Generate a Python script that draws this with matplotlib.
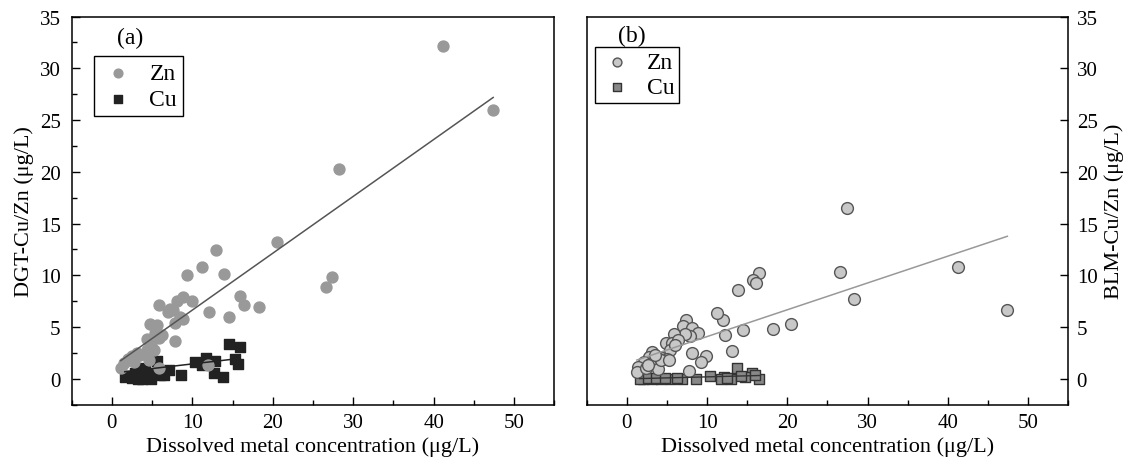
import numpy as np
import matplotlib.pyplot as plt
from matplotlib.ticker import MultipleLocator

plt.rcParams['font.family'] = ['Liberation Serif', 'DejaVu Serif']

# panel (a): DGT-measured vs dissolved
dgt_zn_x = [41.2, 47.4, 28.2, 20.5, 13.0, 11.2, 9.3, 13.9, 27.4, 26.6, 15.9, 16.4, 18.3,
            12.1, 14.5, 5.9, 8.8, 9.9, 8.1, 7.6, 7.0, 7.8, 8.8, 7.9, 4.7, 5.6, 5.3, 5.4,
            5.9, 4.3, 4.8, 5.2, 4.3, 3.1, 2.5, 2.0, 1.5, 1.1, 4.6, 5.8, 12.0, 3.5, 2.7,
            6.2, 7.2, 8.5]
dgt_zn_y = [32.2, 26.0, 20.3, 13.2, 12.45, 10.85, 10.05, 10.1, 9.8, 8.9, 8.05, 7.1, 6.95,
            6.45, 6.0, 7.1, 7.95, 7.5, 7.5, 6.7, 6.5, 5.4, 5.75, 3.7, 5.3, 5.25, 4.9, 4.4,
            3.95, 3.9, 3.3, 2.8, 2.8, 2.5, 2.2, 1.9, 1.5, 1.05, 1.8, 1.1, 1.35, 2.3, 1.6,
            4.2, 6.8, 6.0]
dgt_cu_x = [14.6, 15.95, 15.3, 15.7, 11.7, 12.85, 10.3, 11.2, 12.7, 13.8, 8.6, 7.1, 6.5,
            5.6, 3.5, 4.1, 1.9, 2.5, 3.1, 3.7, 4.35, 4.8, 5.4, 6.0, 2.9, 4.1, 3.3, 2.1, 1.6]
dgt_cu_y = [3.35, 3.05, 1.9, 1.45, 2.0, 1.7, 1.6, 1.35, 0.6, 0.15, 0.42, 0.85, 0.4,
            1.75, 1.05, 0.85, 0.25, 0.05, 0.25, 0.0, 0.05, -0.05, 0.55, 0.4, 0.55, 0.4,
            -0.05, 0.3, 0.15]

# panel (b): BLM-predicted vs dissolved
blm_zn_x = [27.4, 41.2, 47.4, 26.6, 28.3, 20.5, 18.2, 16.5, 15.7, 16.1, 13.9, 14.5, 13.1,
            12.2, 12.0, 11.2, 9.9, 9.3, 7.7, 8.1, 7.4, 7.05, 8.1, 8.9, 7.9, 7.3, 5.9, 4.9,
            5.6, 6.4, 5.4, 3.1, 4.4, 5.0, 2.8, 2.1, 2.9, 3.9, 1.45, 1.25, 4.2, 3.5, 2.4,
            5.2, 6.0, 2.6]
blm_zn_y = [16.5, 10.85, 6.7, 10.3, 7.7, 5.35, 4.85, 10.2, 9.6, 9.3, 8.6, 4.7, 2.65,
            4.25, 5.7, 6.35, 2.2, 1.6, 0.8, 2.5, 5.7, 5.1, 4.9, 4.4, 4.1, 4.3, 4.3, 3.5,
            3.5, 3.8, 2.8, 2.6, 2.0, 1.9, 2.1, 1.6, 1.4, 1.0, 1.15, 0.7, 1.8, 2.3, 1.1,
            1.85, 3.3, 1.3]
blm_cu_x = [13.7, 15.6, 14.7, 13.0, 12.1, 10.4, 11.7, 8.6, 6.9, 5.55, 4.2, 3.15, 2.05,
            1.6, 16.5, 16.0, 2.6, 3.6, 4.8, 6.2, 12.5, 14.2]
blm_cu_y = [1.1, 0.55, 0.15, 0.0, 0.15, 0.25, 0.0, 0.0, 0.0, 0.0, 0.0, 0.0, 0.0,
            0.0, 0.0, 0.4, 0.05, 0.05, 0.05, 0.05, 0.1, 0.3]

# fitted lines (slope, intercept)
dgt_zn_fit = (0.549, 1.16)
dgt_cu_fit = (0.09, 0.55)
blm_zn_fit = (0.259, 1.50)
blm_cu_fit = (0.02, 0.0)


def fit_line(ax, xs, coef, **kw):
    xx = np.array([min(xs), max(xs)])
    ax.plot(xx, coef[0] * xx + coef[1], **kw)


def style_axis(ax, right=False):
    ax.set_xlim(-5, 55)
    ax.set_ylim(-2.5, 35)
    ax.xaxis.set_major_locator(MultipleLocator(10))
    ax.xaxis.set_minor_locator(MultipleLocator(5))
    ax.yaxis.set_major_locator(MultipleLocator(5))
    if not right:
        ax.yaxis.set_minor_locator(MultipleLocator(2.5))
    ax.tick_params(which='major', direction='in', length=6, width=1, labelsize=15, pad=6)
    ax.tick_params(which='minor', direction='in', length=3.5, width=1)
    ax.tick_params(axis='y', pad=6 if right else 8)
    for s in ax.spines.values():
        s.set_linewidth(1.1)
    ax.set_xlabel('Dissolved metal concentration (μg/L)', fontsize=16, labelpad=3)


fig = plt.figure(figsize=(11.31, 4.6), dpi=100)
ax1 = fig.add_axes([0.0634, 0.1178, 0.4267, 0.8441])
ax2 = fig.add_axes([0.5187, 0.1178, 0.4259, 0.8441])

# (a)
cu_a = ax1.scatter(dgt_cu_x, dgt_cu_y, marker='s', s=55, color='#222222', zorder=2)
zn_a = ax1.scatter(dgt_zn_x, dgt_zn_y, marker='o', s=62, color='#999999', zorder=3)
fit_line(ax1, dgt_zn_x, dgt_zn_fit, color='#555555', lw=1.1, zorder=4)
fit_line(ax1, dgt_cu_x, dgt_cu_fit, color='#222222', lw=1.1, zorder=4)
style_axis(ax1)
ax1.set_ylabel('DGT-Cu/Zn (μg/L)', fontsize=16, labelpad=4)
ax1.text(0.094, 0.947, '(a)', transform=ax1.transAxes, fontsize=17, va='center')
leg = ax1.legend([zn_a, cu_a], ['Zn', 'Cu'], loc='upper left', bbox_to_anchor=(0.046, 0.8975),
                 borderaxespad=0, fontsize=17, fancybox=False, edgecolor='black',
                 framealpha=1, handletextpad=0.6, labelspacing=0.2, markerscale=0.8,
                 borderpad=0.25, handlelength=1.5)
leg.get_frame().set_linewidth(1.0)

# (b)
cu_b = ax2.scatter(blm_cu_x, blm_cu_y, marker='s', s=60, facecolor='#888888',
                   edgecolor='#333333', linewidth=1.0, zorder=2)
zn_b = ax2.scatter(blm_zn_x, blm_zn_y, marker='o', s=72, facecolor='#c8c8c8',
                   edgecolor='#555555', linewidth=1.0, zorder=3)
fit_line(ax2, blm_zn_x, blm_zn_fit, color='#999999', lw=1.1, zorder=4)
fit_line(ax2, blm_cu_x, blm_cu_fit, color='#333333', lw=1.0, zorder=4)
style_axis(ax2, right=True)
ax2.yaxis.tick_right()
ax2.yaxis.set_label_position('right')
ax2.tick_params(axis='y', which='both', left=False, right=True)
ax2.set_ylabel('BLM-Cu/Zn (μg/L)', fontsize=16, labelpad=5)
ax2.text(0.065, 0.952, '(b)', transform=ax2.transAxes, fontsize=17, va='center')
leg = ax2.legend([zn_b, cu_b], ['Zn', 'Cu'], loc='upper left', bbox_to_anchor=(0.017, 0.922),
                 borderaxespad=0, fontsize=17, fancybox=False, edgecolor='black',
                 framealpha=1, handletextpad=0.5, labelspacing=0.15, markerscale=0.75,
                 borderpad=0.2, handlelength=1.5)
leg.get_frame().set_linewidth(1.0)

fig.savefig('out.png', dpi=100)
